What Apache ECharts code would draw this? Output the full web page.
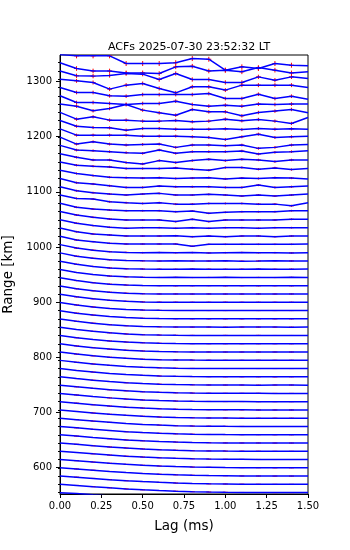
<!DOCTYPE html>
<html>
<head>
<meta charset="utf-8">
<script src="https://cdn.jsdelivr.net/npm/echarts@6/dist/echarts.min.js"></script>
<style>
  html, body { margin: 0; padding: 0; background: #fff; }
  #chart { width: 350px; height: 550px; }
</style>
</head>
<body>
<div id="chart"></div>
<script>
// lags (ms)
const lags = [0, 0.1, 0.2, 0.3, 0.4, 0.5, 0.6, 0.7, 0.8, 0.9, 1.0, 1.1, 1.2, 1.3, 1.4, 1.5];

// range gates (km), bottom to top
const ranges = [
  539.5, 554.5, 569.5, 584.5, 599.5, 614.5, 629.4, 644.4, 659.4, 674.4,
  689.4, 704.4, 719.4, 734.4, 749.4, 764.4, 779.3, 794.3, 809.3, 824.3,
  839.3, 854.3, 869.3, 884.3, 899.3, 914.3, 929.2, 944.2, 959.2, 974.2,
  989.2, 1004.2, 1019.2, 1034.2, 1049.2, 1064.2, 1079.1, 1094.1, 1109.1, 1124.1,
  1139.1, 1154.1, 1169.1, 1184.1, 1199.1, 1214.1, 1229.0, 1244.0, 1259.0, 1274.0,
  1289.0, 1304.0, 1319.0, 1334.0
];

// scale of one normalised ACF (km)
const gateStep = 14.99;

// normalised ACF per gate (same order as ranges)
const acfs = [
  [1,.88,.73,.59,.46,.35,.26,.18,.12,.07,.04,.02,.01,0,0,0],
  [1,.87,.72,.58,.45,.34,.25,.17,.11,.07,.04,.02,.01,0,0,0],
  [1,.87,.72,.57,.44,.33,.24,.16,.1,.06,.04,.02,.01,0,0,0],
  [1,.86,.71,.56,.43,.32,.23,.15,.1,.06,.04,.02,.01,0,0,0],
  [1,.86,.7,.55,.42,.31,.22,.15,.09,.06,.03,.02,.01,0,0,0],
  [1,.85,.69,.54,.41,.3,.21,.14,.09,.05,.03,.02,.01,0,0,0],
  [1,.85,.68,.53,.4,.29,.2,.13,.08,.05,.03,.02,.01,0,0,0],
  [1,.84,.67,.52,.38,.27,.19,.12,.07,.04,.02,.01,.01,0,0,0],
  [1,.84,.66,.51,.37,.26,.18,.11,.07,.04,.02,.01,.01,0,0,0],
  [1,.83,.65,.5,.36,.25,.17,.1,.06,.04,.02,.01,0,0,0,0],
  [1,.82,.64,.48,.35,.24,.16,.1,.06,.03,.02,.01,0,0,0,0],
  [1,.82,.63,.47,.33,.23,.15,.09,.05,.03,.02,.01,0,0,0,0],
  [1,.81,.62,.46,.32,.21,.14,.08,.05,.03,.01,.01,0,0,0,0],
  [1,.8,.61,.44,.31,.2,.13,.07,.04,.02,.01,.01,.01,0,0,0],
  [1,.79,.6,.43,.29,.19,.12,.07,.04,.02,.01,.01,0,.01,.01,0],
  [1,.78,.58,.41,.28,.18,.11,.06,.03,.02,.01,.01,.01,0,.01,.01],
  [1,.77,.57,.4,.26,.16,.1,.05,.03,.02,.01,.01,.01,.01,.01,.01],
  [1,.76,.55,.38,.25,.15,.09,.05,.03,.02,.01,.01,.01,.01,.01,.01],
  [1,.75,.54,.36,.23,.14,.08,.04,.02,.02,.01,.01,.01,.01,.01,.01],
  [1,.74,.53,.35,.22,.13,.07,.04,.02,.01,.01,.01,.01,.01,.01,.01],
  [1,.73,.51,.33,.2,.11,.06,.03,.02,.01,.02,.01,.02,.01,.01,.01],
  [1,.72,.5,.32,.19,.1,.06,.03,.02,.02,.01,.02,.02,.02,.01,.02],
  [1,.71,.48,.3,.17,.09,.05,.03,.02,.02,.02,.02,.02,.02,.02,.02],
  [1,.7,.46,.28,.15,.08,.05,.03,.02,.02,.02,.03,.02,.02,.02,.02],
  [1,.68,.44,.26,.14,.07,.04,.03,.02,.02,.03,.02,.02,.02,.02,.02],
  [1,.66,.42,.24,.12,.06,.03,.03,.02,.03,.02,.02,.03,.02,.03,.02],
  [1,.65,.4,.22,.11,.05,.04,.02,.03,.04,.02,.03,.02,.03,.02,.03],
  [1,.63,.38,.2,.1,.05,.03,.04,.02,.03,.04,.02,.03,.02,.04,.03],
  [1,.62,.36,.18,.08,.05,.03,.02,.04,.03,.02,.03,.04,.02,.03,.04],
  [1,.6,.35,.17,.08,.04,.02,.05,.03,.02,.04,0,.02,.05,.03,.02],
  [1,.58,.33,.15,.06,.03,.05,.02,.04,0,.03,.05,.02,.03,0,.03],
  [1,.56,.36,.15,.07,.07,.07,.07,-.2,.03,.03,.03,.03,.03,.03,.07],
  [1,.56,.28,.16,.04,.04,.04,.08,-.04,.04,-.04,.04,.04,-.04,.04,.04],
  [1,.58,.3,.09,-.03,.05,.05,-.03,.05,-.03,.05,.05,-.03,.05,.05,.05],
  [1,.58,.3,.1,-.02,-.02,-.02,-.22,.06,-.22,-.02,-.02,-.02,-.02,.06,.06],
  [1,.51,.3,.18,.1,.1,.1,-.02,.06,-.22,-.1,-.02,-.02,-.02,.1,.1],
  [1,.59,.51,.19,.07,-.02,.07,-.1,-.1,-.02,-.02,-.02,-.1,-.1,-.3,.07],
  [1,.52,.28,.12,0,.12,.2,0,0,.08,0,-.12,0,-.12,0,.12],
  [1,.49,.33,.12,-.08,-.08,.08,0,0,0,-.08,-.08,.2,-.08,0,.08],
  [1,.6,.35,.15,.1,.05,.1,0,.05,.1,-.05,.05,0,.1,.05,-.05],
  [1,.6,.48,.4,.2,.2,.2,.28,.12,0,.32,.32,.12,.28,.08,.2],
  [1,.56,.24,.24,-.08,-.24,.16,-.08,.16,.32,.16,.32,.24,.04,.24,.24],
  [1,.44,.36,.24,.12,.04,.44,.04,.24,.24,.24,.32,-.04,.16,.24,.36],
  [1,.16,.44,.16,.04,.12,.16,-.24,.04,.04,-.04,.04,-.36,-.24,.04,.12],
  [1,.24,.24,.24,.24,.12,.12,.12,.04,-.04,-.28,.04,.36,-.04,.04,.12],
  [1,.32,.16,.12,-.16,.04,.04,-.04,-.04,-.04,0,-.08,.04,-.04,0,-.04],
  [1,.18,.46,.06,.06,-.06,-.06,.02,-.14,-.06,.18,-.02,.14,-.06,-.34,.38],
  [1,.75,.19,.47,.95,.27,-.06,-.34,.35,.06,.06,-.42,-.02,.15,.35,-.06],
  [1,.19,.19,.07,-.05,.07,.07,.35,-.05,-.25,-.13,-.25,0,-.05,0,0],
  [1,.4,.4,0,-.05,.15,.15,.15,.15,.27,-.33,-.33,.19,-.33,-.05,-.41],
  [1,.81,.61,-.19,.29,.49,-.11,-.64,.09,.09,-.31,.29,.29,.29,.29,0],
  [1,.42,.38,.46,.7,.62,-.03,.7,-.03,-.03,-.39,-.39,.29,-.11,.29,.09],
  [1,.3,0,0,-.23,-.23,-.31,.5,.58,0,.1,-.1,.42,.1,-.23,-.1],
  [1,.83,.83,.83,-.1,-.1,-.1,0,.5,.42,-.9,-.5,-.7,-.1,-.3,-.38]
];

// error bar half-width per gate (normalised)
const errs = [
  .04,.04,.04,.04,.04,.04,.04,.04,.05,.05,
  .05,.05,.05,.05,.05,.05,.05,.05,.05,.05,
  .06,.06,.06,.06,.07,.07,.07,.07,.08,.08,
  .09,.09,.1,.1,.11,.11,.12,.12,.13,.13,
  .14,.15,.16,.17,.18,.19,.2,.21,.22,.22,
  .24,.26,.28,.3
];

const yMajor = [600, 700, 800, 900, 1000, 1100, 1200, 1300];
const yMin = 552, yMax = 1348;

const chart = echarts.init(document.getElementById('chart'));

// blue ACF lines
const lineSeries = acfs.map((acf, i) => ({
  type: 'line',
  data: lags.map((lag, j) => [lag, ranges[i] + gateStep * acf[j]]),
  symbol: 'none',
  clip: true,
  silent: true,
  z: 3,
  lineStyle: { color: '#0000ff', width: 1.5 }
}));

// red error bars (skip lag 0 and the last lag)
const errData = [];
acfs.forEach((acf, i) => {
  for (let j = 1; j < lags.length - 1; j++) {
    errData.push([lags[j], ranges[i] + gateStep * acf[j], gateStep * errs[i]]);
  }
});

const errSeries = {
  type: 'custom',
  data: errData,
  clip: true,
  silent: true,
  z: 2,
  renderItem: function (params, api) {
    const x = api.value(0), y = api.value(1), e = api.value(2);
    const c = api.coord([x, y]);
    const hi = api.coord([x, y + e]);
    const lo = api.coord([x, y - e]);
    return {
      type: 'group',
      children: [
        { type: 'line', shape: { x1: c[0], y1: hi[1], x2: c[0], y2: lo[1] },
          style: { stroke: '#ff0000', lineWidth: 1 } },
        { type: 'line', shape: { x1: c[0] - 2.5, y1: c[1], x2: c[0] + 2.5, y2: c[1] },
          style: { stroke: '#ff0000', lineWidth: 1 } }
      ]
    };
  }
};

const option = {
  animation: false,
  textStyle: { fontFamily: 'DejaVu Sans' },
  title: {
    text: 'ACFs 2025-07-30 23:52:32 LT',
    left: 184,
    top: 37,
    textAlign: 'center',
    textStyle: { fontSize: 11, fontWeight: 'normal', color: '#000', fontFamily: 'DejaVu Sans' }
  },
  grid: {
    left: 60, right: 42, top: 55, bottom: 56,
    outerBoundsMode: 'none',
    containLabel: false,
    show: true, borderColor: '#000', borderWidth: 1
  },
  xAxis: {
    type: 'value',
    min: 0, max: 1.5, interval: 0.25,
    name: 'Lag (ms)',
    nameLocation: 'middle',
    nameGap: 25,
    nameTextStyle: { fontSize: 13.5, color: '#000', fontFamily: 'DejaVu Sans' },
    axisLine: { onZero: false, lineStyle: { color: '#000', width: 1 } },
    axisTick: { length: 4, lineStyle: { color: '#000' } },
    axisLabel: { fontSize: 10, color: '#000', margin: 7, formatter: v => v.toFixed(2) },
    splitLine: { show: false }
  },
  yAxis: [{
    type: 'value',
    min: yMin, max: yMax,
    name: 'Range [km]',
    nameLocation: 'middle',
    nameGap: 45,
    nameTextStyle: { fontSize: 13.5, color: '#000', fontFamily: 'DejaVu Sans' },
    axisLine: { onZero: false, lineStyle: { color: '#000', width: 1 } },
    axisTick: { length: 4, lineStyle: { color: '#000' }, customValues: yMajor },
    axisLabel: { fontSize: 10, color: '#000', margin: 8, customValues: yMajor,
      formatter: v => String(v) },
    splitLine: { show: false }
  }, {
    type: 'value',
    min: yMin, max: yMax,
    position: 'left',
    axisLine: { show: false, onZero: false },
    axisTick: { length: 2, lineStyle: { color: '#000' },
      customValues: ranges.filter(r => r >= yMin && r <= yMax) },
    axisLabel: { show: false },
    splitLine: { show: false }
  }],
  series: [errSeries].concat(lineSeries)
};

chart.setOption(option);
</script>
</body>
</html>
